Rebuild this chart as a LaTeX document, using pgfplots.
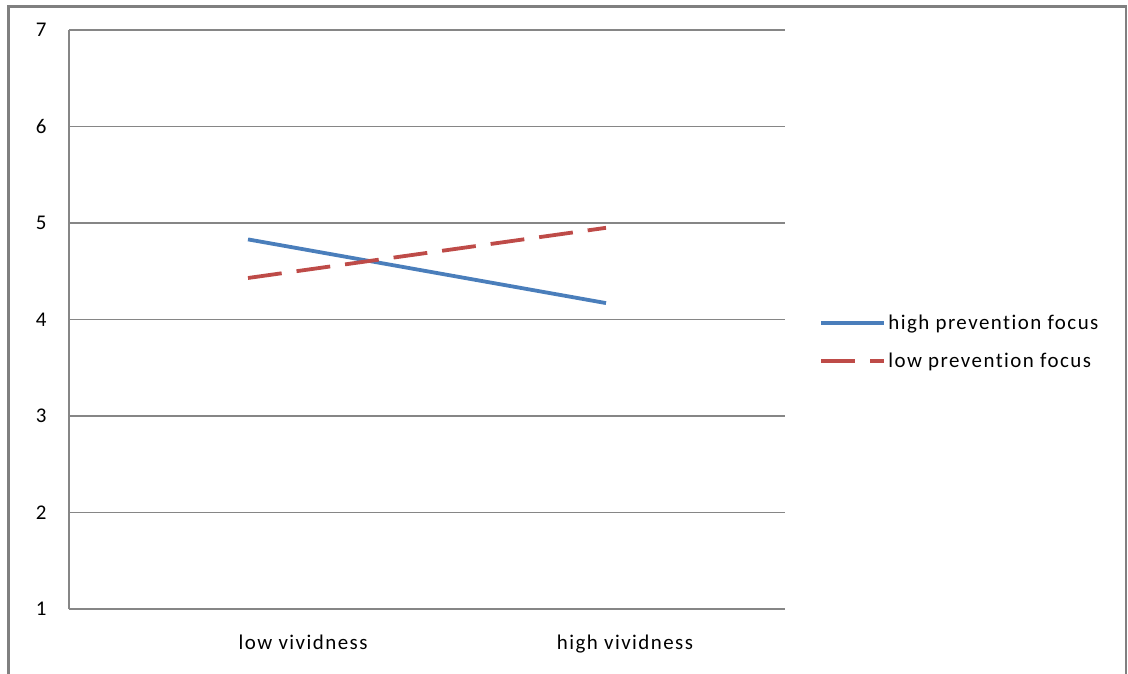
\documentclass[border=0pt]{standalone}
\usepackage{pgfplots}
\pgfplotsset{compat=1.18}
\usepackage{fontspec}
\setmainfont{Carlito}[LetterSpace=7, Ligatures={NoCommon}]
\definecolor{serBlue}{RGB}{74,126,187}
\definecolor{serRed}{RGB}{190,75,72}
\definecolor{gridGray}{RGB}{134,134,134}
\definecolor{frameGray}{RGB}{128,128,128}
\begin{document}
\begin{tikzpicture}[x=1bp,y=1bp]
\useasboundingbox (0,0) rectangle (1128,674);
% chart frame
\draw[frameGray, line width=2.2bp] (8.5,0) -- (8.5,667.5) -- (1126,667.5) -- (1126,0);
\begin{axis}[
  at={(69bp,65bp)}, anchor=south west,
  scale only axis, width=716bp, height=579bp,
  xmin=0, xmax=2, ymin=1, ymax=7,
  ytick={1,2,3,4,5,6,7},
  xtick={0.654,1.553},
  xticklabels={low vividness, high vividness},
  major tick length=0pt,
  axis x line*=bottom, axis y line*=left,
  axis line style={gridGray, line width=1.5bp, -},
  ymajorgrids, grid style={gridGray, line width=1.5bp},
  tick label style={font=\fontsize{21}{25}\selectfont, black},
  /pgf/number format/assume math mode=true,
  yticklabel style={xshift=-19bp},
  xticklabel style={yshift=-22bp},
  legend style={draw=none, fill=none, at={(1.048,0.511)}, anchor=north west,
    font=\fontsize{21}{25}\selectfont, row sep=18bp, inner sep=0pt,
    /tikz/every even column/.append style={column sep=5bp}},
  legend cell align=left,
  legend image code/.code={\draw[#1] (0bp,0bp) -- (63bp,0bp);},
  clip=false,
]
\addplot[serBlue, line width=3.8bp] coordinates {(0.5,4.83) (1.5,4.17)};
\addlegendentry{high prevention focus}
\addplot[serRed, line width=3.8bp, dash pattern=on 34bp off 15bp] coordinates {(0.5,4.43) (1.5,4.95)};
\addlegendentry{low prevention focus}
\end{axis}
\end{tikzpicture}
\end{document}
